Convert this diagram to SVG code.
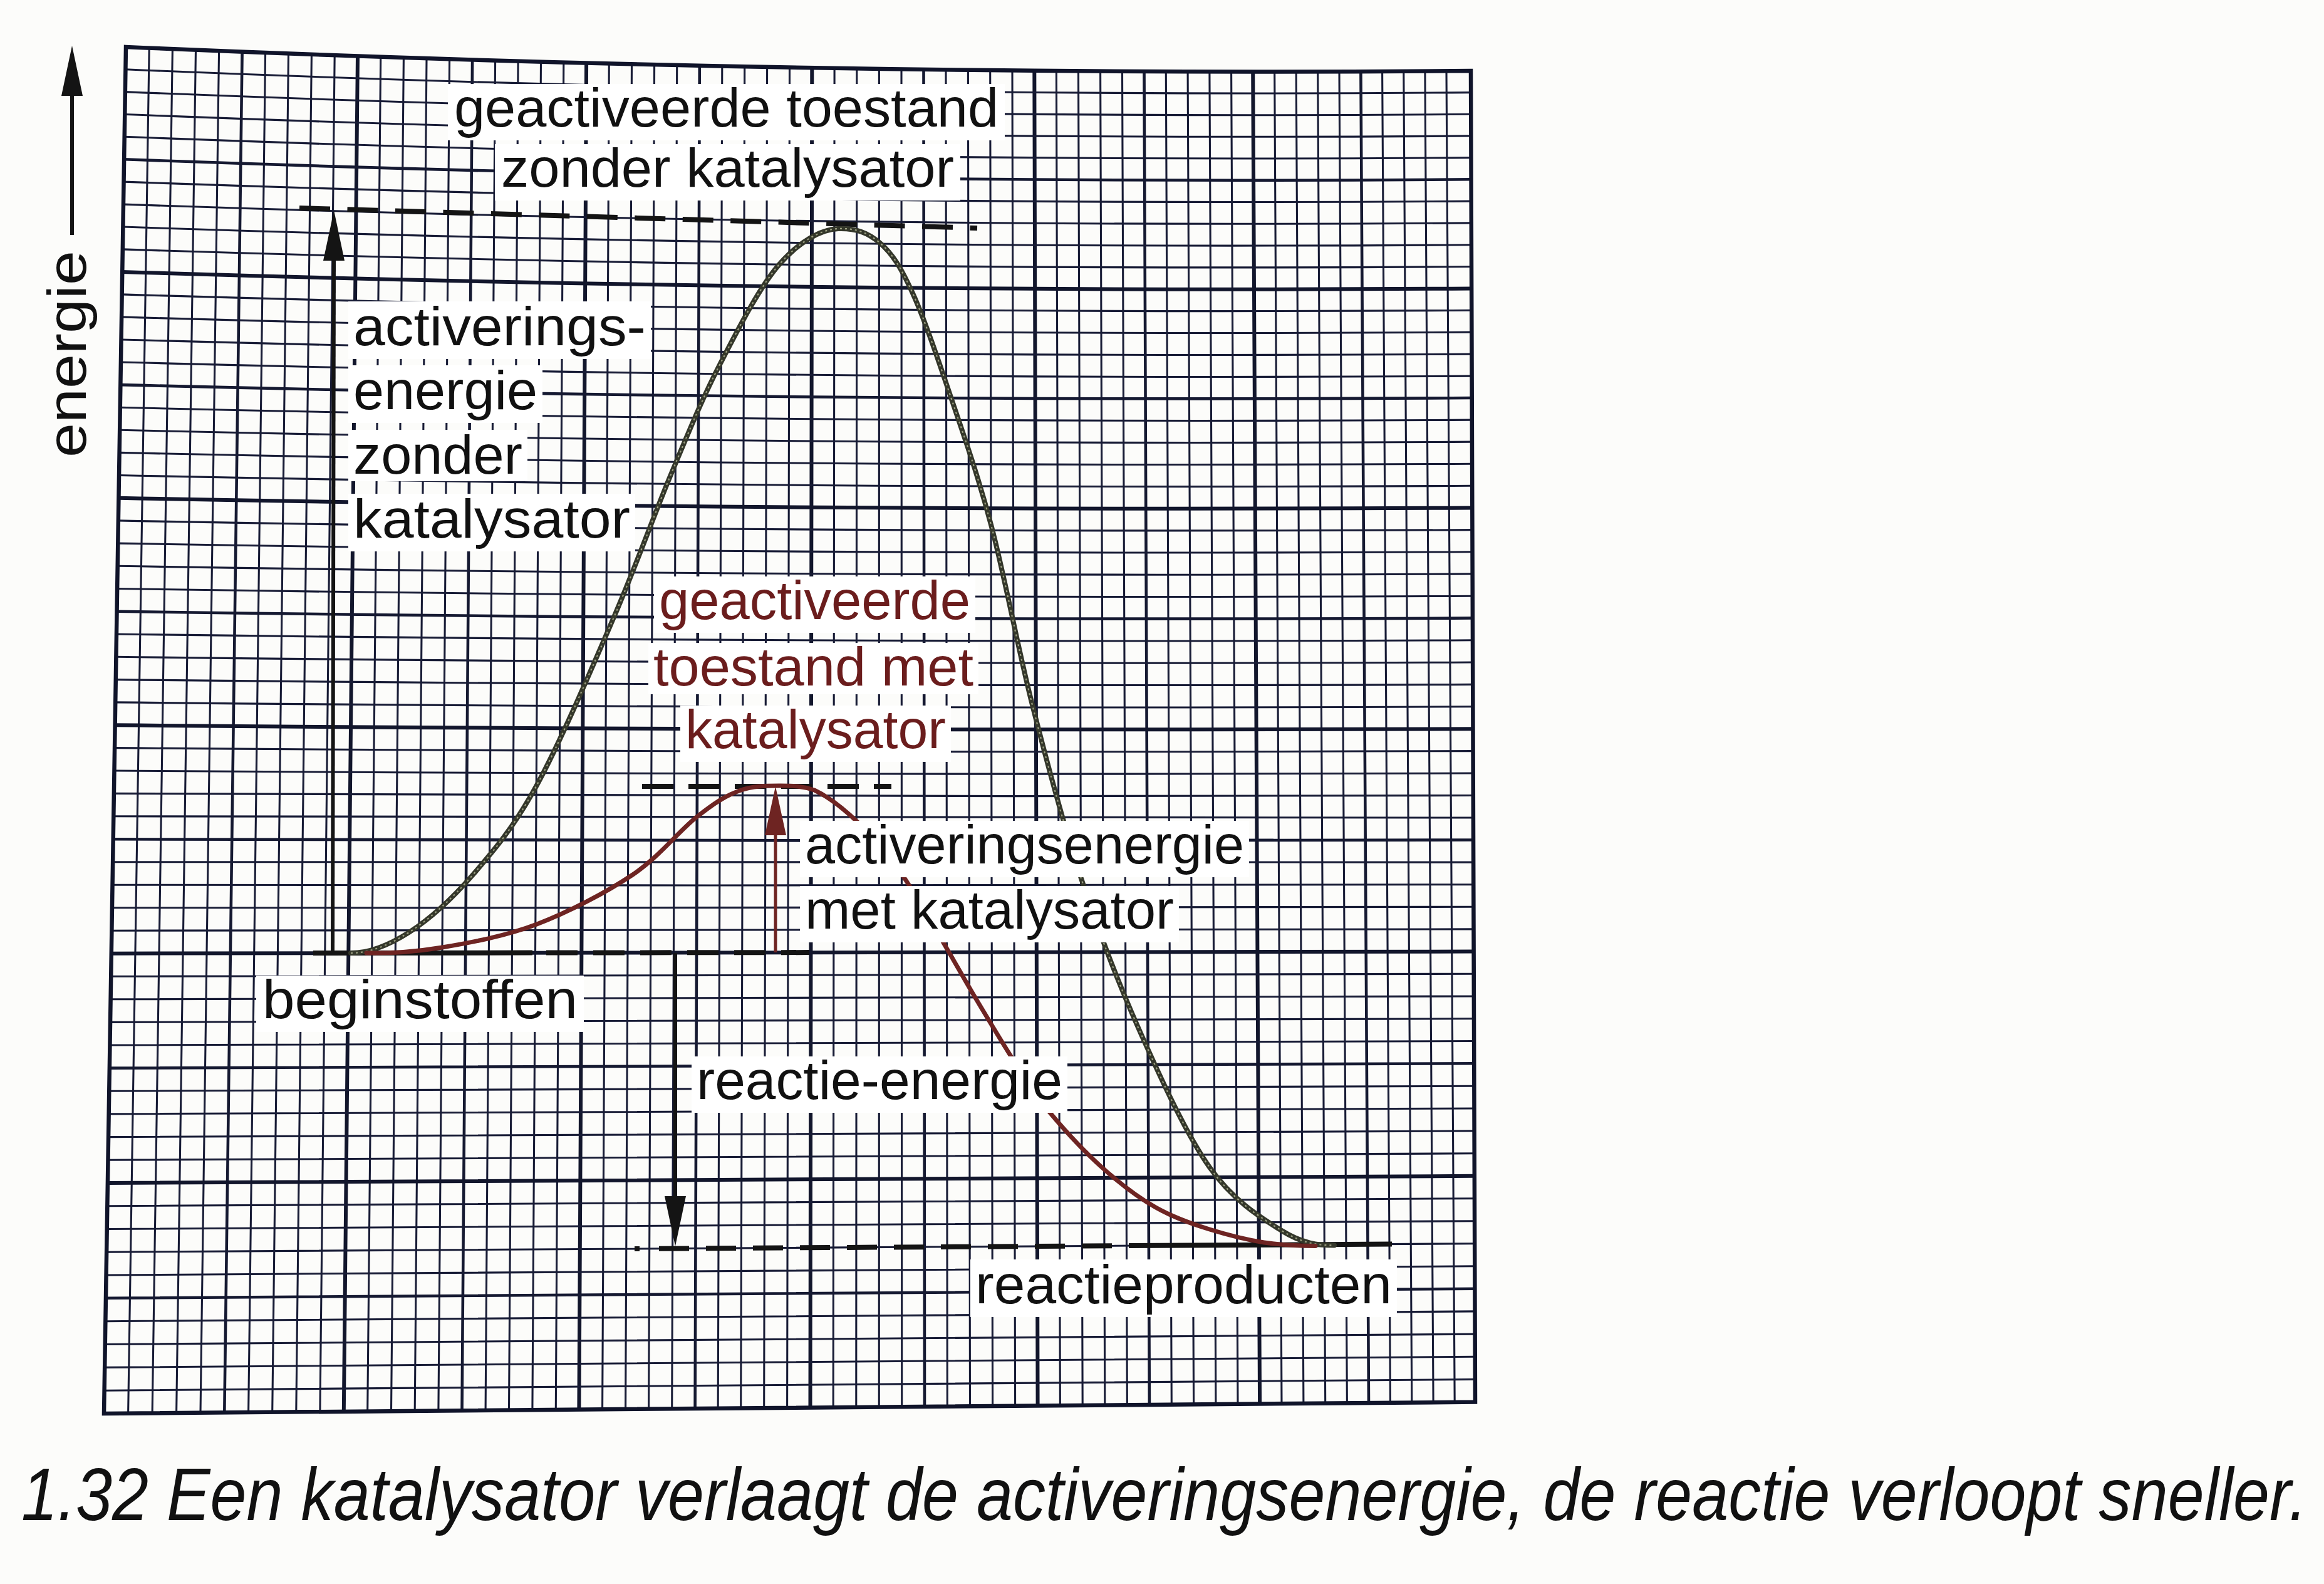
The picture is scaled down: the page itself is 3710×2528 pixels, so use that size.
<svg xmlns="http://www.w3.org/2000/svg" width="3710" height="2528" viewBox="0 0 3710 2528">
<style>
.mn{fill:none;stroke:#181c36;stroke-width:3.1}
.mj{fill:none;stroke:#151931;stroke-width:4.6}
.tk{fill:none;stroke:#12162c;stroke-width:6}
.bd{fill:none;stroke:#10142a;stroke-width:6.5}
.lbl{font-family:"Liberation Sans",Arial,Helvetica,sans-serif;font-size:88px;fill:#111}
.red{fill:#6b1d1d}
.bg{fill:#fff}
.dash{fill:none;stroke:#141414;stroke-width:8}
.arr{fill:none;stroke:#141414;stroke-width:6}
.arrr{fill:none;stroke:#6e2422;stroke-width:5}
.cap{font-family:"Liberation Sans",Arial,sans-serif;font-style:italic;font-size:118px;fill:#111}
</style>
<defs>
<marker id="ahb" viewBox="0 -17 80 34" refX="0" refY="0" markerWidth="80" markerHeight="34" markerUnits="userSpaceOnUse" orient="auto"><path d="M0 -17L80 0L0 17Z" fill="#141414"/></marker>
<marker id="ahr" viewBox="0 -17 78 34" refX="0" refY="0" markerWidth="78" markerHeight="34" markerUnits="userSpaceOnUse" orient="auto"><path d="M0 -17L78 0L0 17Z" fill="#6e2422"/></marker>
</defs>
<rect width="3710" height="2528" fill="#fcfcfa"/>
<g id="grid">
<path class="mn" d="M238.2 76.6L204.6 2255.7M275.4 78.2L243.1 2255.3M312.5 79.7L281.6 2255M349.6 81.2L320 2254.7M423.6 84.1L396.6 2254.1M460.5 85.5L434.7 2253.7M497.4 86.9L472.8 2253.4M534.2 88.2L510.9 2253.1M607.7 90.7L586.7 2252.5M644.4 92L624.5 2252.1M681 93.1L662.2 2251.8M717.6 94.3L699.9 2251.5M790.6 96.5L775.1 2250.9M827.1 97.6L812.5 2250.6M863.5 98.6L849.9 2250.3M899.8 99.6L887.3 2249.9M972.3 101.5L961.6 2249.3M1008.5 102.3L998.6 2249M1044.6 103.2L1035.6 2248.7M1080.7 104L1072.7 2248.4M1152.8 105.6L1146.2 2247.8M1188.7 106.3L1182.7 2247.5M1224.6 107L1219.7 2247.1M1260.5 107.7L1256.6 2246.8M1332.1 108.9L1330.2 2246.2M1367.8 109.4L1366.8 2245.9M1403.4 110L1403.3 2245.6M1439 110.5L1439.7 2245.3M1510 111.4L1512.3 2244.7M1545.4 111.8L1548.5 2244.4M1580.7 112.2L1584.6 2244.1M1616 112.5L1620.6 2243.8M1686.4 113.1L1692.4 2243.2M1721.5 113.4L1728.2 2242.9M1756.6 113.6L1763.8 2242.6M1791.5 113.8L1799.4 2242.3M1861.3 114.1L1870.3 2241.7M1896.1 114.2L1905.6 2241.4M1930.9 114.3L1940.9 2241.1M1965.6 114.4L1976 2240.8M2034.7 114.4L2046 2240.2M2069.2 114.3L2080.9 2239.9M2103.7 114.3L2115.7 2239.6M2138 114.2L2150.4 2239.3M2206.6 113.9L2219.5 2238.7M2240.8 113.7L2253.8 2238.4M2274.9 113.5L2288.1 2238.1M2309 113.3L2322.2 2237.9"/>
<path class="mj" d="M386.6 82.7L358.3 2254.4M754.1 95.4L737.5 2251.2M1116.8 104.8L1109.6 2248.1M1474.5 111L1476 2245M1826.5 114L1834.9 2242M2172.4 114.1L2185 2239"/>
<path class="tk" d="M571 89.5L548.8 2252.8M936.1 100.5L924.4 2249.6M1296.3 108.3L1293.5 2246.5M1651.3 112.9L1656.6 2243.5M2000.2 114.4L2011.1 2240.5"/>
<path class="mn" d="M200.4 110.8Q1274.3 156.3 2348.1 147.6M199.9 146.6Q1274.1 190.9 2348.2 182.3M199.3 182.5Q1273.9 225.4 2348.4 216.9M198.7 218.3Q1273.6 260 2348.5 251.6M197.5 290.1Q1273.1 329.2 2348.7 321.1M197 326.1Q1272.9 363.9 2348.8 355.9M196.4 362Q1272.7 398.6 2348.9 390.7M195.8 397.9Q1272.5 433.3 2349.1 425.5M194.7 469.9Q1272 502.7 2349.3 495.2M194.1 505.9Q1271.8 537.5 2349.4 530.1M193.5 542Q1271.5 572.3 2349.5 565.1M192.9 578Q1271.3 607.1 2349.6 600.1M191.8 650.2Q1270.9 676.8 2349.9 670.1M191.2 686.3Q1270.6 711.7 2350 705.1M190.6 722.4Q1270.4 746.6 2350.1 740.2M190 758.5Q1270.1 781.5 2350.2 775.3M188.9 830.9Q1269.7 851.5 2350.5 845.6M188.3 867.1Q1269.5 886.4 2350.6 880.7M187.7 903.3Q1269.2 921.4 2350.7 915.9M187.1 939.5Q1269 956.5 2350.8 951.2M186 1012Q1268.5 1026.6 2351 1021.7M185.4 1048.3Q1268.3 1061.7 2351.2 1057M184.8 1084.6Q1268.1 1096.8 2351.3 1092.4M184.2 1120.9Q1267.8 1132 2351.4 1127.8M183.1 1193.6Q1267.4 1202.4 2351.6 1198.6M182.5 1230Q1267.1 1237.6 2351.7 1234M181.9 1266.4Q1266.9 1272.8 2351.9 1269.5M181.3 1302.8Q1266.7 1308.1 2352 1305M180.1 1375.7Q1266.2 1378.7 2352.2 1376.1M179.5 1412.2Q1265.9 1414 2352.3 1411.7M179 1448.7Q1265.7 1449.4 2352.4 1447.3M178.4 1485.2Q1265.5 1484.8 2352.6 1482.9M177.2 1558.3L2352.8 1554.3M176.6 1594.8L2352.9 1590M176 1631.4L2353 1625.8M175.4 1668L2353.1 1661.5M174.3 1741.3L2353.4 1733.2M173.7 1777.9L2353.5 1769M173.1 1814.6L2353.6 1804.9M172.5 1851.3L2353.7 1840.8M171.3 1924.7L2354 1912.7M170.7 1961.5L2354.1 1948.7M170.1 1998.2L2354.2 1984.7M169.5 2035L2354.3 2020.8M168.4 2108.7L2354.6 2092.9M167.8 2145.5L2354.7 2129.1M167.2 2182.4L2354.8 2165.2M166.6 2219.2L2354.9 2201.4"/>
<path class="mj" d="M198.1 254.2Q1273.4 294.6 2348.6 286.3M192.3 614.1Q1271.1 641.9 2349.8 635M186.5 975.8Q1268.7 991.5 2350.9 986.4M180.7 1339.3Q1266.4 1343.4 2352.1 1340.5M174.8 1704.6L2353.3 1697.3M169 2071.8L2354.4 2056.8"/>
<path class="tk" d="M195.2 433.9Q1272.2 468 2349.2 460.4M189.5 794.7Q1269.9 816.5 2350.3 810.4M183.6 1157.3Q1267.6 1167.2 2351.5 1163.2M177.8 1521.7L2352.7 1518.6M171.9 1888L2353.9 1876.8"/>
<path class="bd" d="M201 75Q1274.5 121.8 2348 113L2355 2237.6L166 2256Z"/>
</g>
<g id="connectors">
<path class="dash" stroke-dasharray="49 27.5" d="M478 332L1560 364"/>
<path class="dash" stroke-width="7" stroke-dasharray="50 24" d="M1025 1255L1423 1255"/>
<path class="dash" stroke-width="7" d="M500 1521L850 1520.6"/>
<path class="dash" stroke-width="7" stroke-dasharray="50 25" d="M872 1520.6L1292 1520.1"/>
<path class="dash" d="M1013 1993L1021 1993"/>
<path class="dash" stroke-dasharray="48 27" d="M1052 1992.7L1777 1988.3"/>
<path class="dash" d="M1802 1988.1L2222 1985.5"/>
<path class="arr" d="M115 375L115 153" marker-end="url(#ahb)"/>
<path class="arr" d="M531 1521L533 416" marker-end="url(#ahb)"/>
<path class="arrr" d="M1238 1520L1238 1333" marker-end="url(#ahr)"/>
<path class="arr" d="M1078 1521L1078 1909" marker-end="url(#ahb)"/>
</g>
<g id="curve-zonder">
<path fill="none" stroke="#34372a" stroke-width="8" stroke-linecap="round" d="M560 1521C590 1521 620.5 1508.8 653 1488C685.5 1467.2 721 1435.2 755 1396C789 1356.8 819.5 1321.5 857 1253C894.5 1184.5 944.2 1068 980 985C1015.8 902 1043.7 822.5 1072 755C1100.3 687.5 1121.3 635.5 1150 580C1178.7 524.5 1212.7 457.8 1244 422C1275.3 386.2 1310 366 1338 365C1366 364 1385.2 370.8 1405 388C1424.8 405.2 1437.8 426 1457 468C1476.2 510 1499 577.8 1520 640C1541 702.2 1561.7 760.2 1583 841C1604.3 921.8 1624.3 1032 1648 1125C1671.7 1218 1696.8 1313.2 1725 1399C1753.2 1484.8 1782.7 1562.7 1817 1640C1851.3 1717.3 1892.8 1809 1931 1863C1969.2 1917 2012.8 1943.2 2046 1964C2079.2 1984.8 2105 1987.5 2130 1987.5"/>
<path fill="none" stroke="#9a9e80" stroke-width="2.2" stroke-dasharray="3 5" d="M560 1521C590 1521 620.5 1508.8 653 1488C685.5 1467.2 721 1435.2 755 1396C789 1356.8 819.5 1321.5 857 1253C894.5 1184.5 944.2 1068 980 985C1015.8 902 1043.7 822.5 1072 755C1100.3 687.5 1121.3 635.5 1150 580C1178.7 524.5 1212.7 457.8 1244 422C1275.3 386.2 1310 366 1338 365C1366 364 1385.2 370.8 1405 388C1424.8 405.2 1437.8 426 1457 468C1476.2 510 1499 577.8 1520 640C1541 702.2 1561.7 760.2 1583 841C1604.3 921.8 1624.3 1032 1648 1125C1671.7 1218 1696.8 1313.2 1725 1399C1753.2 1484.8 1782.7 1562.7 1817 1640C1851.3 1717.3 1892.8 1809 1931 1863C1969.2 1917 2012.8 1943.2 2046 1964C2079.2 1984.8 2105 1987.5 2130 1987.5"/>
</g>
<g id="curve-met">
<path fill="none" stroke="#6e2422" stroke-width="7" stroke-linecap="round" d="M585 1521C625 1521 660.7 1519.7 706 1512C751.3 1504.3 806.3 1494.3 857 1475C907.7 1455.7 967.5 1424.5 1010 1396C1052.5 1367.5 1083.7 1326.3 1112 1304C1140.3 1281.7 1157.7 1270.3 1180 1262C1202.3 1253.7 1226 1254 1246 1254C1266 1254 1280 1254.5 1300 1261C1320.5 1270.7 1346 1290 1369 1312C1392 1334 1416 1362.3 1438 1393C1460 1423.7 1481 1462.5 1501 1496C1521 1529.5 1538 1560.5 1558 1594C1578 1627.5 1601.8 1667.3 1621 1697C1640.2 1726.7 1650 1744.3 1673 1772C1696 1799.7 1730.3 1837.2 1759 1863C1787.7 1888.8 1816.3 1910.7 1845 1927C1873.7 1943.3 1902.2 1953 1931 1962C1959.8 1971 1989.8 1978.5 2018 1983C2046.2 1987 2075 1988.5 2100 1988.5"/>
</g>
<g id="node-geactiveerd-zonder">
<rect class="bg" x="715" y="134" width="889" height="90"/>
<rect class="bg" x="790" y="230" width="743" height="90"/>
<text class="lbl" x="725" y="202" textLength="869" lengthAdjust="spacingAndGlyphs">geactiveerde toestand</text>
<text class="lbl" x="800" y="298" textLength="723" lengthAdjust="spacingAndGlyphs">zonder katalysator</text>
</g>
<g id="node-activering-zonder">
<rect class="bg" x="556" y="481" width="483" height="92"/>
<rect class="bg" x="556" y="583" width="310" height="92"/>
<rect class="bg" x="556" y="686" width="286" height="82"/>
<rect class="bg" x="556" y="788" width="458" height="92"/>
<text class="lbl" font-size="91" x="564" y="551" textLength="467" lengthAdjust="spacingAndGlyphs">activerings-</text>
<text class="lbl" font-size="91" x="564" y="653" textLength="294" lengthAdjust="spacingAndGlyphs">energie</text>
<text class="lbl" font-size="91" x="564" y="756" textLength="270" lengthAdjust="spacingAndGlyphs">zonder</text>
<text class="lbl" font-size="91" x="564" y="858" textLength="442" lengthAdjust="spacingAndGlyphs">katalysator</text>
</g>
<g id="node-geactiveerd-met">
<rect class="bg" x="1044" y="920" width="513" height="90"/>
<rect class="bg" x="1035" y="1026" width="527" height="82"/>
<rect class="bg" x="1086" y="1126" width="432" height="90"/>
<text class="lbl red" x="1052" y="988" textLength="497" lengthAdjust="spacingAndGlyphs">geactiveerde</text>
<text class="lbl red" x="1043" y="1094" textLength="511" lengthAdjust="spacingAndGlyphs">toestand met</text>
<text class="lbl red" x="1094" y="1194" textLength="416" lengthAdjust="spacingAndGlyphs">katalysator</text>
</g>
<g id="node-activering-met">
<rect class="bg" x="1277" y="1310" width="717" height="90"/>
<rect class="bg" x="1277" y="1414" width="605" height="90"/>
<text class="lbl" x="1285" y="1378" textLength="701" lengthAdjust="spacingAndGlyphs">activeringsenergie</text>
<text class="lbl" x="1285" y="1482" textLength="589" lengthAdjust="spacingAndGlyphs">met katalysator</text>
</g>
<g id="node-beginstoffen">
<rect class="bg" x="409" y="1557" width="523" height="90"/>
<text class="lbl" x="419" y="1625" textLength="503" lengthAdjust="spacingAndGlyphs">beginstoffen</text>
</g>
<g id="node-reactie-energie">
<rect class="bg" x="1104" y="1686" width="600" height="90"/>
<text class="lbl" x="1112" y="1754" textLength="584" lengthAdjust="spacingAndGlyphs">reactie-energie</text>
</g>
<g id="node-reactieproducten">
<rect class="bg" x="1549" y="2010" width="681" height="92"/>
<text class="lbl" font-size="90" x="1557" y="2080" textLength="665" lengthAdjust="spacingAndGlyphs">reactieproducten</text>
</g>
<g id="node-energie-as">
<text class="lbl" font-size="104" transform="translate(137 730) rotate(-90)" x="0" y="0" textLength="330" lengthAdjust="spacingAndGlyphs">energie</text>
</g>
<g id="caption">
<text class="cap" transform="translate(34 2426) scale(0.884 1)" x="0" y="0">1.32 Een katalysator verlaagt de activeringsenergie, de reactie verloopt sneller.</text>
</g>
</svg>
